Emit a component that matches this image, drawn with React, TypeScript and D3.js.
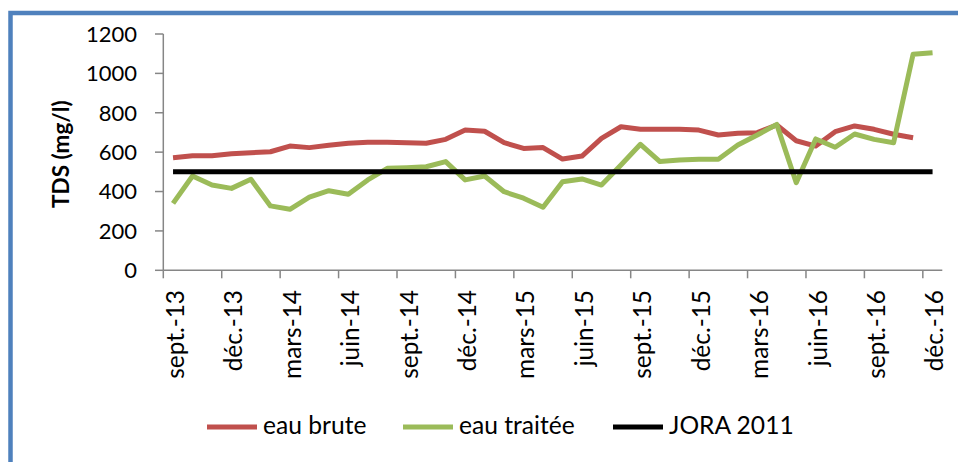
import * as d3 from "d3";

// month categories, sept. 2013 -> déc. 2016 (one point per month)
const tickLabels = [
  "sept.-13", "déc.-13", "mars-14", "juin-14", "sept.-14", "déc.-14", "mars-15",
  "juin-15", "sept.-15", "déc.-15", "mars-16", "juin-16", "sept.-16", "déc.-16",
];

const eauBrute = [
  572, 582, 582, 592, 597, 602, 631, 623, 635, 645, 650, 650, 648, 645, 665, 712,
  706, 648, 619, 623, 565, 580, 670, 729, 716, 716, 716, 712, 687, 696, 699, 738,
  658, 631, 704, 733, 716, 691, 673,
];

const eauTraitee = [
  340, 479, 433, 416, 462, 327, 310, 371, 404, 386, 459, 518, 521, 526, 552, 459,
  479, 399, 366, 320, 450, 464, 433, 535, 640, 552, 560, 564, 564, 636, 687, 741,
  445, 667, 625, 692, 665, 648, 1097, 1105,
];

const jora = 500;
const nMonths = 40;
const yTicks = [0, 200, 400, 600, 800, 1000, 1200];

const legendItems = [
  { label: "eau brute", color: "#C0504D" },
  { label: "eau traitée", color: "#9BBB59" },
  { label: "JORA 2011", color: "#000000" },
];

const FONT = "Lato, 'Open Sans', sans-serif";

export default function App() {
  const width = 958;
  const height = 462;

  const x = d3
    .scaleBand<number>()
    .domain(d3.range(nMonths))
    .range([163.3, 942.3])
    .padding(0);
  const y = d3.scaleLinear().domain([0, 1200]).range([270.3, 34]);
  const cx = (i: number) => (x(i) as number) + x.bandwidth() / 2;

  const line = d3
    .line<number>()
    .x((_, i) => cx(i))
    .y((d) => y(d));

  const axisColor = "#868686";

  return (
    <svg
      width={width}
      height={height}
      style={{ position: "absolute", left: 0, top: 0, background: "#fff" }}
    >
      <rect x={0} y={0} width={width} height={height} fill="#fff" />
      {/* frame */}
      <rect
        x={10.5}
        y={13}
        width={width + 20}
        height={height + 20}
        fill="none"
        stroke="#4F81BD"
        strokeWidth={4.5}
      />

      {/* y axis */}
      <line x1={163.3} x2={163.3} y1={y(1200)} y2={y(0)} stroke={axisColor} strokeWidth={1.5} />
      {yTicks.map((t) => (
        <g key={t}>
          <line x1={155} x2={163.3} y1={y(t)} y2={y(t)} stroke={axisColor} strokeWidth={1.5} />
          <text
            x={137}
            y={y(t)}
            dy="0.36em"
            textAnchor="end"
            fontFamily={FONT}
            fontSize={22}
            fill="#000"
          >
            {t}
          </text>
        </g>
      ))}
      <text
        transform={`translate(69, ${y(600) + 2}) rotate(-90)`}
        textAnchor="middle"
        fontFamily={FONT}
        fontWeight="bold"
        fontSize={22.5}
      >
        TDS (mg/l)
      </text>

      {/* x axis */}
      <line x1={163.3} x2={942.3} y1={y(0)} y2={y(0)} stroke={axisColor} strokeWidth={1.5} />
      {tickLabels.map((lab, k) => {
        const i = k * 3;
        const bx = x(i) as number;
        return (
          <g key={lab}>
            <line x1={bx} x2={bx} y1={y(0)} y2={y(0) + 8} stroke={axisColor} strokeWidth={1.5} />
            <text
              transform={`translate(${cx(i) + 2}, 290) rotate(-90)`}
              textAnchor="end"
              dy="0.36em"
              fontFamily={FONT}
              fontSize={24.4}
            >
              {lab}
            </text>
          </g>
        );
      })}

      {/* series */}
      <path d={line(eauBrute) || ""} fill="none" stroke="#C0504D" strokeWidth={5} strokeLinejoin="round" />
      <path d={line(eauTraitee) || ""} fill="none" stroke="#9BBB59" strokeWidth={5} strokeLinejoin="round" />
      <line x1={cx(0)} x2={cx(nMonths - 1)} y1={y(jora)} y2={y(jora)} stroke="#000" strokeWidth={5} />

      {/* legend */}
      {legendItems.map((it, k) => {
        const lx = [207, 403, 613][k];
        return (
          <g key={it.label}>
            <line x1={lx} x2={lx + 50} y1={427} y2={427} stroke={it.color} strokeWidth={5} />
            <text x={lx + 56} y={434} fontFamily={FONT} fontSize={24.6}>
              {it.label}
            </text>
          </g>
        );
      })}
    </svg>
  );
}
